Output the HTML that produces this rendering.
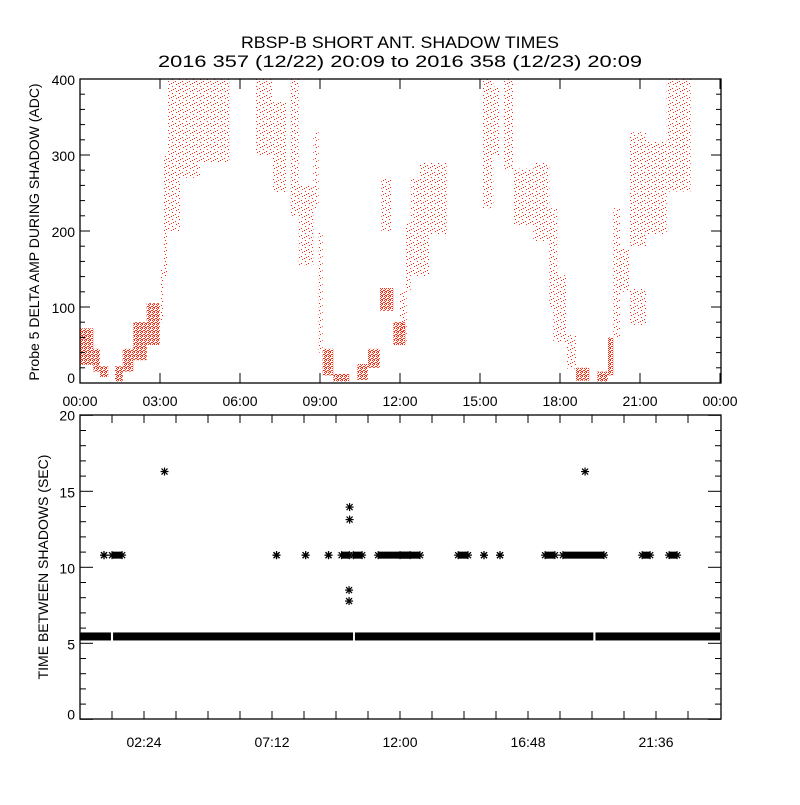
<!DOCTYPE html>
<html><head><meta charset="utf-8"><style>
html,body{margin:0;padding:0;background:#fff;}
svg text{font-family:"Liberation Sans",sans-serif;fill:#000;}
</style></head><body>
<svg id="chart" width="800" height="800" viewBox="0 0 800 800" xmlns="http://www.w3.org/2000/svg">
<defs>
<pattern id="dense" width="4" height="4" patternUnits="userSpaceOnUse">
<rect x="0" y="0" width="1" height="1" fill="#ff2a10"/><rect x="2" y="0" width="1" height="1" fill="#ff2a10"/><rect x="1" y="1" width="1" height="1" fill="#ff2a10"/><rect x="3" y="2" width="1" height="1" fill="#ff2a10"/><rect x="0" y="2" width="1" height="1" fill="#ff2a10"/><rect x="2" y="3" width="1" height="1" fill="#ff2a10"/><rect x="1" y="3" width="1" height="1" fill="#ff2a10"/>
</pattern>
<pattern id="sparse" width="7" height="7" patternUnits="userSpaceOnUse">
<rect x="1" y="0" width="1" height="1" fill="#ff2a10"/><rect x="4" y="2" width="1" height="1" fill="#ff2a10"/><rect x="0" y="4" width="1" height="1" fill="#ff2a10"/><rect x="5" y="5" width="1" height="1" fill="#ff2a10"/><rect x="3" y="6" width="1" height="1" fill="#ff2a10"/>
</pattern>
</defs>
<text x="400" y="48" font-size="17" text-anchor="middle" textLength="318" lengthAdjust="spacingAndGlyphs">RBSP-B SHORT ANT. SHADOW TIMES</text>
<text x="400" y="67" font-size="17" text-anchor="middle" textLength="484" lengthAdjust="spacingAndGlyphs">2016 357 (12/22) 20:09 to 2016 358 (12/23) 20:09</text>
<g id="topPanel"></g>
<g id="botPanel"></g>
</svg>
<script>
// Top panel data: bands of samples (hour start, hour end, low, high ADC, density)
const bandStart = [0,0.5,0.75,1.31,1.6,2.0,2.5,3.0,3.15,3.3,3.75,4.5,6.6,7.2,7.9,8.2,8.75,8.95,9.1,9.5,10.4,10.8,11.25,11.3,11.75,12.0,12.2,12.4,12.75,13.1,15.1,15.5,15.9,16.25,17,17.6,17.75,18.25,18.6,19.4,19.8,20.0,20.25,20.6,20.6,21.25,22];
const bandEnd   = [0.5,0.75,1.06,1.6,2.0,2.5,3.0,3.15,3.3,3.75,4.5,5.6,7.2,7.75,8.2,8.75,8.95,9.1,9.5,10.1,10.8,11.25,11.75,11.7,12.2,12.25,12.4,12.75,13.1,13.75,15.5,15.75,16.25,17,17.6,17.9,18.25,18.6,19.1,19.8,20.0,20.25,20.6,21.25,21.25,22,22.9];
const bandLow   = [24,15,8,2,15,30,50,80,140,200,270,290,300,250,220,155,230,40,10,2,4,20,95,200,50,55,120,140,140,195,230,300,280,208,186,100,54,19,3,2,10,60,120,76,180,195,252];
const bandHigh  = [72,45,22,22,45,80,105,150,300,400,400,400,400,370,400,260,330,200,45,12,25,45,125,270,80,120,210,270,290,290,400,390,400,282,290,230,142,63,20,15,60,230,177,125,330,318,400];
const bandDense = [1,1,1,1,1,1,1,0,0,0,0,0,0,0,0,0,0,0,1,1,1,1,1,0,1,0,0,0,0,0,0,0,0,0,0,0,0,0,1,1,1,0,0,0,0,0,0];
const topXTicks = ["00:00","03:00","06:00","09:00","12:00","15:00","18:00","21:00","00:00"];
const topYTicks = ["0","100","200","300","400"];
// Bottom panel data (hours)
const baseStart = [0,1.24,10.31,19.33];
const baseEnd   = [1.16,10.24,19.25,24];
const baseValue = [5.45,5.45,5.45,5.45];
const clusterStart = [0.9,1.2,7.37,8.46,9.32,9.81,10.25,11.18,12.0,14.18,15.15,15.75,17.44,18.11,21.08,22.09];
const clusterEnd   = [0.9,1.58,7.37,8.46,9.32,10.1,10.58,12.38,12.75,14.55,15.15,15.75,17.81,19.65,21.38,22.39];
const clusterValue = [10.8,10.8,10.8,10.8,10.8,10.8,10.8,10.8,10.8,10.8,10.8,10.8,10.8,10.8,10.8,10.8];
const outlierHour  = [3.17,10.11,10.11,10.09,10.09,18.94];
const outlierValue = [16.3,13.96,13.14,8.5,7.78,16.3];
const botXTicks = ["02:24","07:12","12:00","16:48","21:36"];
const botYTicks = ["0","5","10","15","20"];

const NS="http://www.w3.org/2000/svg";
function mk(parent,tag,attrs){const e=document.createElementNS(NS,tag);for(const k in attrs)e.setAttribute(k,attrs[k]);parent.appendChild(e);return e;}
const T={x0:80,x1:721,y0:79,y1:383};
const tx=h=>80+h*80/3, ty=v=>383-v*0.76;
const B={x0:80,x1:721,y0:415,y1:719};
const bx=h=>80+h*80/3, by=v=>719.3-v*15.2;

const topG=document.getElementById('topPanel');
for(let i=0;i<bandStart.length;i++){
  const r=mk(topG,'rect',{x:tx(bandStart[i]),y:ty(bandHigh[i]),width:Math.max(1.5,tx(bandEnd[i])-tx(bandStart[i])),height:ty(bandLow[i])-ty(bandHigh[i]),fill:bandDense[i]?'url(#dense)':'url(#sparse)'});
  
  
}
const tf=mk(topG,'rect',{x:T.x0,y:T.y0,width:T.x1-T.x0,height:T.y1-T.y0,fill:'none',stroke:'#000','stroke-width':1.3});


for(let v=0;v<=400;v+=20){
  const len=(v%100===0)?10:5;
  mk(topG,'line',{x1:T.x0,x2:T.x0+len,y1:ty(v),y2:ty(v),stroke:'#000'});
  mk(topG,'line',{x1:T.x1,x2:T.x1-len,y1:ty(v),y2:ty(v),stroke:'#000'});
}
topYTicks.forEach((s,i)=>{
  const t=mk(topG,'text',{x:75,y:ty(+s)+(i===0?0:6),'font-size':14,'text-anchor':'end'});t.textContent=s;
  
  
});
topXTicks.forEach((s,i)=>{
  const x=tx(i*3);
  mk(topG,'line',{x1:x,x2:x,y1:T.y1,y2:T.y1-10,stroke:'#000'});
  mk(topG,'line',{x1:x,x2:x,y1:T.y0,y2:T.y0+10,stroke:'#000'});
  const t=mk(topG,'text',{x:x,y:406,'font-size':14,'text-anchor':'middle'});t.textContent=s;
  
  
});
const yl=mk(topG,'text',{x:0,y:0,'font-size':14,'text-anchor':'middle',transform:'translate(39,232) rotate(-90)'});
yl.textContent='Probe 5 DELTA AMP DURING SHADOW (ADC)';



const botG=document.getElementById('botPanel');
function star(g,x,y){
  const s=mk(g,'g',{stroke:'#000','stroke-width':1.2});
  
  
  mk(s,'line',{x1:x-4,x2:x+4,y1:y,y2:y});mk(s,'line',{x1:x,x2:x,y1:y-4,y2:y+4});
  mk(s,'line',{x1:x-3,x2:x+3,y1:y-3,y2:y+3});mk(s,'line',{x1:x-3,x2:x+3,y1:y+3,y2:y-3});
}
for(let i=0;i<baseStart.length;i++){
  const x0=Math.max(B.x0,bx(baseStart[i])),x1=Math.min(B.x1,bx(baseEnd[i]));
  const r=mk(botG,'rect',{x:x0,y:by(baseValue[i])-4,width:x1-x0,height:8,fill:'#000'});
  
  
}
for(let i=0;i<clusterStart.length;i++){
  const x0=bx(clusterStart[i]),x1=bx(clusterEnd[i]),y=by(clusterValue[i]);
  if(x1-x0>2){const r=mk(botG,'rect',{x:x0,y:y-3.5,width:x1-x0,height:7,fill:'#000'});
    
    }
  star(botG,x0,y);star(botG,x1,y);
}
for(let i=0;i<outlierHour.length;i++) star(botG,bx(outlierHour[i]),by(outlierValue[i]));
const bf=mk(botG,'rect',{x:B.x0,y:B.y0,width:B.x1-B.x0,height:B.y1-B.y0,fill:'none',stroke:'#000','stroke-width':1.3});


for(let v=0;v<=20;v++){
  const len=(v%5===0)?13:6;
  mk(botG,'line',{x1:B.x0,x2:B.x0+len,y1:by(v),y2:by(v),stroke:'#000'});
  mk(botG,'line',{x1:B.x1,x2:B.x1-len,y1:by(v),y2:by(v),stroke:'#000'});
}
botYTicks.forEach((s,i)=>{
  const t=mk(botG,'text',{x:75,y:by(+s)+(i===0?0:(i===4?5:6)),'font-size':14,'text-anchor':'end'});t.textContent=s;
  
  
});
for(let k=1;k<20;k++){
  const x=bx(1.2*k); if(x>B.x1-2) break;
  mk(botG,'line',{x1:x,x2:x,y1:B.y1,y2:B.y1-8,stroke:'#000'});
  mk(botG,'line',{x1:x,x2:x,y1:B.y0,y2:B.y0+8,stroke:'#000'});
}
botXTicks.forEach((s,i)=>{
  const t=mk(botG,'text',{x:bx(2.4+4.8*i),y:747,'font-size':14,'text-anchor':'middle'});t.textContent=s;
  
  
});
const yl2=mk(botG,'text',{x:0,y:0,'font-size':14,'text-anchor':'middle',transform:'translate(48,567) rotate(-90)'});
yl2.textContent='TIME BETWEEN SHADOWS (SEC)';


</script>
</body></html>
